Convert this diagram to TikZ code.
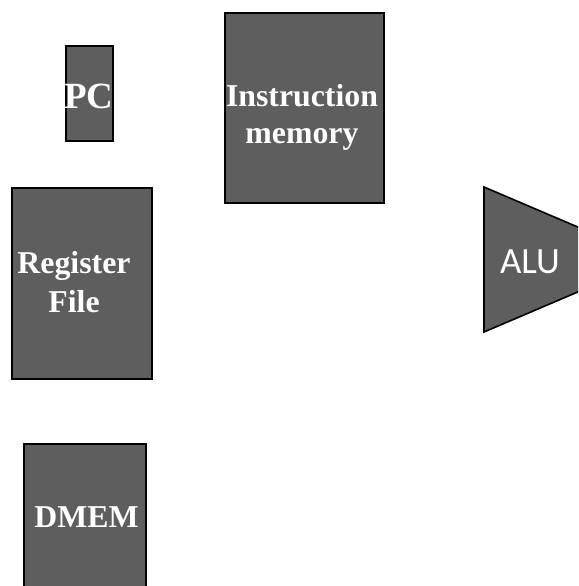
\documentclass[tikz,border=0pt]{standalone}
\usepackage{fontspec}
\setmainfont{Liberation Serif}
\newfontfamily\alufont{Carlito}
\begin{document}
\begin{tikzpicture}[x=1pt,y=-1pt,
  unit/.style={draw=black,line width=1.6pt,fill=blockgray,inner sep=0pt,
    rectangle,anchor=center},
  lbl/.style={text=white,font=\bfseries\fontsize{31.8}{37}\selectfont,
    inner sep=0pt,anchor=base},
  biglbl/.style={lbl,font=\bfseries\fontsize{37}{44}\selectfont}]
\definecolor{blockgray}{HTML}{5E5E5E}
\path[use as bounding box,clip] (0,0) rectangle (578,586);

% blocks of the datapath
\node[unit,minimum width=47.5pt,minimum height=95.5pt] (pc) at (89.5,93.5) {};
\node[unit,minimum width=159.5pt,minimum height=190.5pt] (imem) at (304.5,108) {};
\node[unit,minimum width=140.5pt,minimum height=191.5pt] (rf) at (82,283.5) {};
\node[unit,minimum width=122.5pt,minimum height=168pt] (dmem) at (85,528) {};

% ALU trapezoid, running past the right edge
\draw[line width=1.6pt,fill=blockgray]
  (484,187) -- (600,236.5) -- (600,282.5) -- (484,332) -- cycle;

% labels
\node[biglbl] (pclbl) at (89,108) {PC};
\node[lbl] (imemlbl1) at (302,106) {Instruction};
\node[lbl] (imemlbl2) at (302,143) {memory};
\node[lbl] (rflbl1) at (74,273) {Register};
\node[lbl] (rflbl2) at (74,312) {File};
\node[lbl] (dmemlbl) at (86.5,527) {DMEM};
\node[text=white,font=\alufont\fontsize{37}{44}\selectfont,inner sep=0pt,
  anchor=base] (alulbl) at (530,273) {ALU};
\end{tikzpicture}
\end{document}
